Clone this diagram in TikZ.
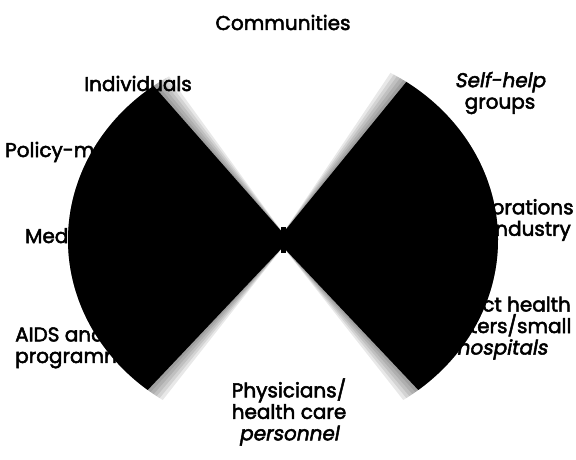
\documentclass[tikz,border=0pt]{standalone}
\usepackage{fontspec}
\newfontfamily\lblfont{Poppins}[FakeBold=2.5]
\newfontfamily\lblslant{Poppins}[FakeBold=2.5,FakeSlant=0.18]
\usepackage{tikz}
\usetikzlibrary{calc}

\begin{document}
\begin{tikzpicture}[x=1pt,y=1pt,
    lbl/.style={inner sep=0pt, font=\lblfont\fontsize{20}{21.5}\selectfont, align=center},
    wedge/.style={fill=black},
    fuzz/.style={fill=black, opacity=#1}
  ]
  \useasboundingbox (0,0) rectangle (576,459);

  % Mitte
  \coordinate (m) at (283,219);
  \coordinate (mu) at (283,226);
  \coordinate (ml) at (283,212);

  % Beschriftungen
  \node[lbl, anchor=base] (comm) at (283,429) {Communities};
  \node[lbl, anchor=base] (indiv) at (138,368) {Individuals};
  \node[lbl] (selfhelp) at (500,366) {{\lblslant Self-help}\\groups};
  \node[lbl, anchor=base west] (policy) at (5,302) {Policy-makers};
  \node[lbl, anchor=base west] (media) at (25,216) {Media};
  \node[lbl, anchor=west, align=left] (aids) at (15,111.5) {AIDS and\\programmes};
  \node[lbl] (corp) at (508,239) {Corporations\\and industry};
  \node[lbl] (district) at (502,131) {District health\\centers/small\\{\lblslant hospitals}};
  \node[lbl] (phys) at (289,47) {Physicians/\\health care\\{\lblslant personnel}};

  % Faecher, Rand
  \foreach \d in {5,4,3,2,1}{
    \fill[fuzz=0.09] (mu) -- ($(m)+(127-\d:215 and 193)$)
      arc[start angle=127-\d, end angle=231+\d, x radius=215, y radius=193] -- (ml) -- cycle;
    \fill[fuzz=0.09] (ml) -- ($(m)+(-51-\d:215 and 193)$)
      arc[start angle=-51-\d, end angle=55+\d, x radius=215, y radius=193] -- (mu) -- cycle;
  }

  % Faecher
  \fill[wedge] (mu) -- ($(m)+(127:215 and 193)$)
    arc[start angle=127, end angle=231, x radius=215, y radius=193] -- (ml) -- cycle;
  \fill[wedge] (ml) -- ($(m)+(-51:215 and 193)$)
    arc[start angle=-51, end angle=55, x radius=215, y radius=193] -- (mu) -- cycle;
  \fill[wedge] (280.5,206) rectangle (285.5,232);
\end{tikzpicture}
\end{document}
